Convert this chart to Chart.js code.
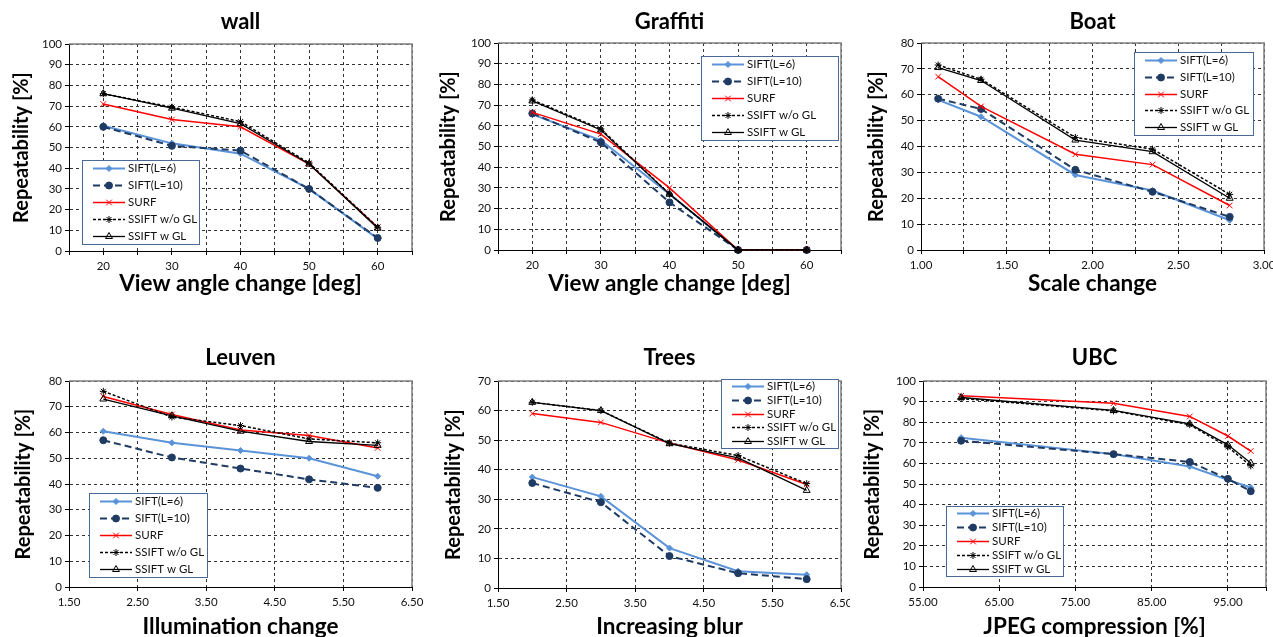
<!DOCTYPE html>
<html>
<head>
<meta charset="utf-8">
<script src="https://cdn.jsdelivr.net/npm/chart.js@4.4.1/dist/chart.umd.min.js"></script>
<style>
  html, body { margin: 0; padding: 0; background: #fff; width: 1273px; height: 637px; overflow: hidden; }
  canvas.panel { position: absolute; }
</style>
</head>
<body>
<canvas id="c-wall" class="panel" style="left:0px;top:0px" width="425" height="318"></canvas>
<canvas id="c-graffiti" class="panel" style="left:425px;top:0px" width="425" height="318"></canvas>
<canvas id="c-boat" class="panel" style="left:850px;top:0px" width="423" height="318"></canvas>
<canvas id="c-leuven" class="panel" style="left:0px;top:318px" width="425" height="330"></canvas>
<canvas id="c-trees" class="panel" style="left:425px;top:318px" width="425" height="330"></canvas>
<canvas id="c-ubc" class="panel" style="left:850px;top:318px" width="423" height="330"></canvas>
<script>
// =========================
// DATA
// =========================

const SERIES_NAMES = ["SIFT(L=6)", "SIFT(L=10)", "SURF", "SSIFT w/o GL", "SSIFT w GL"];

// wall: view angle change [deg]
const wallX = [20, 30, 40, 50, 60];
const wallSift6 = [60.5, 52, 47, 30, 6];
const wallSift10 = [60, 50.8, 48.5, 30, 6.3];
const wallSurf = [71, 63.5, 60, 42, 11.5];
const wallNoGL = [76, 69.5, 62.5, 42.5, 11.5];
const wallGL = [76, 69, 61.5, 42, 11];

// Graffiti: view angle change [deg]
const graffitiX = [20, 30, 40, 50, 60];
const graffitiSift6 = [65.5, 53, 27, 0, 0];
const graffitiSift10 = [66, 52, 23, 0, 0];
const graffitiSurf = [66.5, 56, 30, 0, 0];
const graffitiNoGL = [72.5, 58.5, 27, 0, 0];
const graffitiGL = [72, 58, 27, 0, 0];

// Boat: scale change
const boatX = [1.1, 1.35, 1.9, 2.35, 2.8];
const boatSift6 = [58, 51.5, 29, 23, 11.5];
const boatSift10 = [58.5, 54.5, 31, 22.5, 12.8];
const boatSurf = [67, 55.5, 37, 33, 17.2];
const boatNoGL = [71.5, 66, 43.5, 39, 21.5];
const boatGL = [70.5, 65.5, 42.5, 38, 20];

// Leuven: illumination change
const leuvenX = [2, 3, 4, 5, 6];
const leuvenSift6 = [60.5, 56, 53, 50, 43];
const leuvenSift10 = [57, 50.3, 46, 41.8, 38.5];
const leuvenSurf = [74, 67, 61, 58.8, 54];
const leuvenNoGL = [76, 66, 62.7, 57.5, 56];
const leuvenGL = [73, 66.5, 60.5, 56.5, 55];

// Trees: increasing blur
const treesX = [2, 3, 4, 5, 6];
const treesSift6 = [37.5, 31, 13.5, 5.7, 4.5];
const treesSift10 = [35.5, 29, 10.8, 5, 3];
const treesSurf = [59, 56, 49, 43.3, 35];
const treesNoGL = [62.8, 60, 49, 44.8, 35.3];
const treesGL = [62.8, 60, 48.8, 44, 33];

// UBC: JPEG compression [%]
const ubcX = [60, 80, 90, 95, 98];
const ubcSift6 = [72.5, 64.5, 58.5, 52, 48.3];
const ubcSift10 = [71, 64.5, 60.7, 52.5, 46.5];
const ubcSurf = [92.8, 89.2, 82.8, 73.3, 66];
const ubcNoGL = [91.5, 85.5, 78.8, 68, 58.8];
const ubcGL = [92, 85.7, 79.2, 69, 60.2];

// x grid positions and which of them carry a label
const angleGrid = [15, 20, 25, 30, 35, 40, 45, 50, 55, 60, 65];
const angleLabels = [20, 30, 40, 50, 60];
const scaleGrid = [1, 1.25, 1.5, 1.75, 2, 2.25, 2.5, 2.75, 3];
const scaleLabels = [1, 1.5, 2, 2.5, 3];
const stepGrid = [1.5, 2.5, 3.5, 4.5, 5.5, 6.5];
const stepLabels = [1.5, 2.5, 3.5, 4.5, 5.5, 6.5];
const jpegGrid = [55, 65, 75, 85, 95, 100];
const jpegLabels = [55, 65, 75, 85, 95];

// =========================
// STYLES
// =========================

const SERIES_STYLES = [
  { color: "#5a93d8", dash: [], width: 2, point: "rectRot", radius: 3, fill: "#5a93d8" },
  { color: "#1f3b63", dash: [7, 4], width: 2, point: "circle", radius: 3.5, fill: "#1f3b63" },
  { color: "#ff0000", dash: [], width: 1.5, point: "crossRot", radius: 4, fill: "#ff0000" },
  { color: "#000000", dash: [3, 2], width: 1.5, point: "star", radius: 3.5, fill: "#000000" },
  { color: "#000000", dash: [], width: 1.3, point: "triangle", radius: 4, fill: "rgba(0,0,0,0)" },
];

const FONT = "Lato, 'Liberation Sans', sans-serif";
const GRID_COLOR = "#333333";

// =========================
// PLUGINS
// =========================

// gray frame on the top and right edges of the plot area
const plotFrame = {
  id: "plotFrame",
  beforeDatasetsDraw(chart) {
    const { ctx, chartArea: a } = chart;
    ctx.save();
    ctx.strokeStyle = "#808080";
    ctx.lineWidth = 1.5;
    ctx.beginPath();
    ctx.moveTo(a.left, a.top);
    ctx.lineTo(a.right, a.top);
    ctx.lineTo(a.right, a.bottom);
    ctx.stroke();
    ctx.restore();
  },
};

// boxed legend drawn at a fixed spot inside the plot
const boxLegend = {
  id: "boxLegend",
  afterDatasetsDraw(chart, args, opts) {
    if (!opts || opts.w === undefined) return;
    const { ctx } = chart;
    const { x, y, w, h } = opts;
    ctx.save();
    ctx.fillStyle = "#ffffff";
    ctx.fillRect(x, y, w, h);
    ctx.strokeStyle = "#4a6a96";
    ctx.lineWidth = 1;
    ctx.strokeRect(x + 0.5, y + 0.5, w, h);

    const rowH = h / chart.data.datasets.length;
    chart.data.datasets.forEach((ds, i) => {
      const cy = Math.round(y + (i + 0.5) * rowH) + 0.5;
      ctx.save();
      ctx.strokeStyle = ds.borderColor;
      ctx.lineWidth = ds.borderWidth;
      ctx.setLineDash(ds.borderDash || []);
      ctx.beginPath();
      ctx.moveTo(x + 11, cy);
      ctx.lineTo(x + 43, cy);
      ctx.stroke();
      ctx.setLineDash([]);
      ctx.strokeStyle = ds.pointBorderColor;
      ctx.fillStyle = ds.pointBackgroundColor;
      ctx.lineWidth = ds.pointBorderWidth;
      Chart.helpers.drawPoint(ctx, {
        pointStyle: ds.pointStyle,
        radius: ds.pointRadius,
        borderWidth: ds.pointBorderWidth,
        rotation: 0,
      }, x + 27, cy);
      ctx.restore();

      ctx.fillStyle = "#111";
      ctx.font = "11.5px " + FONT;
      ctx.textBaseline = "middle";
      ctx.textAlign = "left";
      ctx.fillText(ds.label, x + 46, cy);
    });
    ctx.restore();
  },
};

// =========================
// CHART BUILDER
// =========================

function buildDatasets(xs, seriesList) {
  return seriesList.map((ys, i) => {
    const st = SERIES_STYLES[i];
    return {
      label: SERIES_NAMES[i],
      data: xs.map((x, k) => ({ x, y: ys[k] })),
      showLine: true,
      borderColor: st.color,
      borderWidth: st.width,
      borderDash: st.dash,
      pointStyle: st.point,
      pointRadius: st.radius,
      pointBorderWidth: 1,
      pointBorderColor: st.color,
      pointBackgroundColor: st.fill,
      pointHoverRadius: st.radius,
      order: seriesList.length - i,
      clip: false,
    };
  });
}

function makePanel(p) {
  const canvas = document.getElementById(p.id);
  const W = canvas.width;
  const H = canvas.height;
  const tickFont = { family: FONT, size: 11.5 };
  const titleFont = { family: FONT, size: 22, weight: "bold" };
  const xTitleFont = { family: FONT, size: 22.5, weight: "bold" };
  const yTitleFont = { family: FONT, size: 20, weight: "bold" };

  return new Chart(canvas, {
    type: "scatter",
    data: { datasets: buildDatasets(p.xs, p.series) },
    options: {
      responsive: false,
      animation: false,
      events: [],
      layout: { padding: { left: 0, top: 0, bottom: 0, right: p.canvasLeft + W - p.plot.right } },
      plugins: {
        legend: { display: false },
        tooltip: { enabled: false },
        title: {
          display: true,
          text: p.title,
          fullSize: false,
          color: "#000",
          font: titleFont,
          padding: {
            top: p.titleMid - p.canvasTop - 13.2,
            bottom: p.plot.top - p.titleMid - 13.2,
          },
        },
        boxLegend: {
          x: p.legend.x - p.canvasLeft,
          y: p.legend.y - p.canvasTop,
          w: p.legend.w,
          h: p.legend.h,
        },
      },
      scales: {
        x: {
          type: "linear",
          min: p.xGrid[0],
          max: p.xGrid[p.xGrid.length - 1],
          afterBuildTicks: (s) => { s.ticks = p.xGrid.map((v) => ({ value: v })); },
          afterFit: (s) => {
            s.height = p.canvasTop + H - p.plot.bottom;
            s.paddingLeft = 0;
            s.paddingRight = 0;
          },
          ticks: {
            autoSkip: false,
            maxRotation: 0,
            padding: 4,
            color: "#111",
            font: tickFont,
            callback: (v) => (p.xLabels.includes(v) ? v.toFixed(p.xDecimals) : ""),
          },
          grid: { color: GRID_COLOR, lineWidth: 1, tickLength: 4, tickColor: "#000", tickBorderDash: [] },
          border: { color: "#000", width: 1, dash: [3, 3] },
          title: {
            display: true,
            text: p.xTitle,
            color: "#000",
            font: xTitleFont,
            padding: { top: 0, bottom: p.canvasTop + H - p.xTitleMid - 13.5 },
          },
        },
        y: {
          type: "linear",
          min: 0,
          max: p.yMax,
          afterFit: (s) => {
            s.width = p.plot.left - p.canvasLeft;
            s.paddingTop = 0;
            s.paddingBottom = 0;
          },
          ticks: { stepSize: 10, padding: 3, color: "#111", font: tickFont },
          grid: { color: GRID_COLOR, lineWidth: 1, tickLength: 4, tickColor: "#000", tickBorderDash: [] },
          border: { color: "#000", width: 1, dash: [3, 3] },
          title: {
            display: true,
            text: "Repeatability [%]",
            color: "#000",
            font: yTitleFont,
            padding: { top: p.yTitleMid - p.canvasLeft - 12, bottom: 0 },
          },
        },
      },
    },
    plugins: [plotFrame, boxLegend],
  });
}

// =========================
// PANELS
// =========================

makePanel({
  id: "c-wall", canvasLeft: 0, canvasTop: 0,
  plot: { left: 69, top: 44, right: 412, bottom: 251 },
  title: "wall", titleMid: 22,
  xTitle: "View angle change [deg]", xTitleMid: 284,
  yTitleMid: 22, yMax: 100,
  xs: wallX, series: [wallSift6, wallSift10, wallSurf, wallNoGL, wallGL],
  xGrid: angleGrid, xLabels: angleLabels, xDecimals: 0,
  legend: { x: 82, y: 160, w: 117, h: 84 },
});

makePanel({
  id: "c-graffiti", canvasLeft: 425, canvasTop: 0,
  plot: { left: 498, top: 43, right: 841, bottom: 250 },
  title: "Graffiti", titleMid: 22,
  xTitle: "View angle change [deg]", xTitleMid: 284,
  yTitleMid: 449, yMax: 100,
  xs: graffitiX, series: [graffitiSift6, graffitiSift10, graffitiSurf, graffitiNoGL, graffitiGL],
  xGrid: angleGrid, xLabels: angleLabels, xDecimals: 0,
  legend: { x: 701, y: 56, w: 137, h: 84 },
});

makePanel({
  id: "c-boat", canvasLeft: 850, canvasTop: 0,
  plot: { left: 921, top: 43, right: 1264, bottom: 250 },
  title: "Boat", titleMid: 22,
  xTitle: "Scale change", xTitleMid: 284,
  yTitleMid: 877, yMax: 80,
  xs: boatX, series: [boatSift6, boatSift10, boatSurf, boatNoGL, boatGL],
  xGrid: scaleGrid, xLabels: scaleLabels, xDecimals: 2,
  legend: { x: 1134, y: 52, w: 119, h: 83 },
});

makePanel({
  id: "c-leuven", canvasLeft: 0, canvasTop: 318,
  plot: { left: 69, top: 381, right: 412, bottom: 587 },
  title: "Leuven", titleMid: 358,
  xTitle: "Illumination change", xTitleMid: 627,
  yTitleMid: 24, yMax: 80,
  xs: leuvenX, series: [leuvenSift6, leuvenSift10, leuvenSurf, leuvenNoGL, leuvenGL],
  xGrid: stepGrid, xLabels: stepLabels, xDecimals: 2,
  legend: { x: 89, y: 493, w: 118, h: 84 },
});

makePanel({
  id: "c-trees", canvasLeft: 425, canvasTop: 318,
  plot: { left: 498, top: 381, right: 841, bottom: 588 },
  title: "Trees", titleMid: 358,
  xTitle: "Increasing blur", xTitleMid: 627,
  yTitleMid: 454, yMax: 70,
  xs: treesX, series: [treesSift6, treesSift10, treesSurf, treesNoGL, treesGL],
  xGrid: stepGrid, xLabels: stepLabels, xDecimals: 2,
  legend: { x: 721, y: 379, w: 117, h: 69 },
});

makePanel({
  id: "c-ubc", canvasLeft: 850, canvasTop: 318,
  plot: { left: 923, top: 381, right: 1266, bottom: 587 },
  title: "UBC", titleMid: 358,
  xTitle: "JPEG compression [%]", xTitleMid: 627,
  yTitleMid: 873, yMax: 100,
  xs: ubcX, series: [ubcSift6, ubcSift10, ubcSurf, ubcNoGL, ubcGL],
  xGrid: jpegGrid, xLabels: jpegLabels, xDecimals: 2,
  legend: { x: 946, y: 506, w: 117, h: 70 },
});
</script>
</body>
</html>
